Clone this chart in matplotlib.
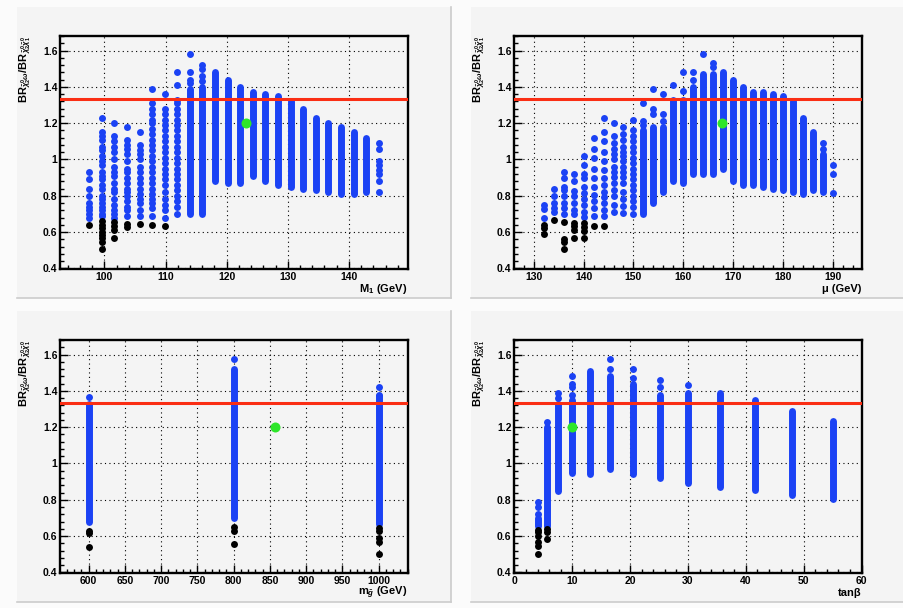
import matplotlib.pyplot as plt
from matplotlib.patches import Rectangle
from matplotlib.lines import Line2D
from matplotlib.ticker import MultipleLocator, FormatStrFormatter

# ---- data: BR ratio scan against M1, mu, m_gluino and tan(beta) ----
RATIO_LIMIT = 1.333
GREEN_Y = 1.2

m1_x = [97.5, 99.6, 101.6, 103.7, 105.8, 107.8, 109.9, 111.9, 114.0, 116.0, 118.1, 120.2,
        122.2, 124.3, 126.3, 128.4, 130.5, 132.5, 134.6, 136.6, 138.7, 140.8, 142.8, 144.9]
m1_dots = [
    [0.93, 0.89, 0.84, 0.80, 0.76, 0.74, 0.72, 0.70, 0.68],
    [1.23, 1.15, 1.13, 1.11, 1.07, 1.05, 1.02, 0.99, 0.97, 0.93, 0.91, 0.89, 0.86, 0.84,
     0.80, 0.78, 0.76, 0.74, 0.72, 0.70, 0.69],
    [1.20, 1.13, 1.10, 1.07, 1.04, 1.00, 0.96, 0.93, 0.91, 0.87, 0.84, 0.82, 0.78, 0.75,
     0.72, 0.70, 0.68],
    [1.18, 1.11, 1.08, 1.06, 1.03, 0.99, 0.95, 0.93, 0.90, 0.87, 0.84, 0.82, 0.80, 0.77,
     0.74, 0.72, 0.69],
    [1.15, 1.08, 1.05, 1.03, 1.00, 0.96, 0.93, 0.90, 0.87, 0.84, 0.81, 0.78, 0.76, 0.72, 0.69],
    [1.39, 1.31, 1.28, 1.25, 1.22, 1.20, 1.17, 1.14, 1.11, 1.08, 1.05, 1.02, 0.99, 0.96,
     0.93, 0.90, 0.87, 0.84, 0.81, 0.78, 0.76, 0.73, 0.69],
    [1.36, 1.28, 1.25, 1.22, 1.19, 1.16, 1.13, 1.10, 1.07, 1.04, 1.01, 0.98, 0.95, 0.92,
     0.89, 0.86, 0.82, 0.78, 0.75, 0.72, 0.68],
    [1.48, 1.41, 1.33, 1.31, 1.28, 1.25, 1.22, 1.19, 1.16, 1.13, 1.10, 1.07, 1.04, 1.01,
     0.98, 0.95, 0.92, 0.89, 0.86, 0.83, 0.80, 0.77, 0.74, 0.70],
    [1.58, 1.48, 1.44, 1.42],
    [1.52, 1.50, 1.46, 1.43],
    [], [], [], [], [], [], [], [], [], [], [], [], [],
    [1.09, 1.06, 0.99, 0.97, 0.94, 0.92, 0.88, 0.82],
]
m1_lo = [None] * 8 + [0.70, 0.70, 0.88, 0.87, 0.87, 0.91, 0.88, 0.86, 0.85, 0.84, 0.83,
                     0.82, 0.81, 0.81, 0.82, None]
m1_hi = [None] * 8 + [1.39, 1.40, 1.48, 1.44, 1.40, 1.37, 1.36, 1.35, 1.32, 1.28, 1.23,
                     1.20, 1.18, 1.15, 1.12, None]
m1_black = [[0.64], [0.66, 0.64, 0.62, 0.60, 0.585, 0.565, 0.545, 0.505],
            [0.655, 0.635, 0.61, 0.565], [0.645, 0.63], [0.645], [0.64], [0.635]] + [[]] * 17

mu_x = [132, 134, 136, 138, 140, 142, 144, 146, 148, 150, 152, 154, 156, 158, 160,
        162, 164, 166, 168, 170, 172, 174, 176, 178, 180, 182, 184, 186, 188, 190]
mu_dots = [
    [0.75, 0.725, 0.68],
    [0.84, 0.80, 0.76, 0.73, 0.71],
    [0.93, 0.90, 0.85, 0.83, 0.80, 0.76, 0.73, 0.70],
    [0.92, 0.88, 0.825, 0.80, 0.76, 0.72, 0.70],
    [1.02, 0.97, 0.92, 0.90, 0.85, 0.815, 0.78, 0.75, 0.71, 0.685],
    [1.12, 1.06, 1.01, 0.95, 0.90, 0.85, 0.805, 0.77, 0.73, 0.69],
    [1.23, 1.15, 1.10, 1.04, 0.99, 0.94, 0.90, 0.86, 0.82, 0.795, 0.76, 0.72, 0.69],
    [1.20, 1.13, 1.09, 1.06, 1.03, 1.00, 0.96, 0.93, 0.905, 0.87, 0.83, 0.80, 0.75, 0.71],
    [1.18, 1.14, 1.11, 1.07, 1.04, 1.02, 0.99, 0.96, 0.93, 0.905, 0.87, 0.82, 0.78, 0.745, 0.705],
    [1.22, 1.16, 1.13, 1.10, 1.07, 1.04, 1.01, 0.98, 0.95, 0.92, 0.89, 0.86, 0.83, 0.80,
     0.77, 0.74, 0.70],
    [1.31, 1.21, 1.19],
    [1.39, 1.28, 1.25],
    [1.36, 1.25, 1.21],
    [1.41],
    [1.48, 1.38],
    [1.48, 1.44],
    [1.58],
    [1.53, 1.51],
    [], [], [], [], [], [], [], [], [], [],
    [1.09, 1.06],
    [0.97, 0.92, 0.815],
]
mu_lo = [None] * 10 + [0.70, 0.76, 0.82, 0.88, 0.87, 0.92, 0.92, 0.92, 0.95, 0.88, 0.86,
                       0.86, 0.85, 0.84, 0.83, 0.82, 0.81, 0.83, 0.82, None]
mu_hi = [None] * 10 + [1.16, 1.18, 1.18, 1.33, 1.33, 1.40, 1.47, 1.47, 1.48, 1.44, 1.40,
                       1.37, 1.37, 1.36, 1.35, 1.32, 1.23, 1.15, 1.03, None]
mu_black = [[0.64, 0.625, 0.59], [0.665], [0.655, 0.56, 0.545, 0.505],
            [0.65, 0.635, 0.61, 0.565], [0.65, 0.63, 0.605, 0.565], [0.635], [0.635]] + [[]] * 23

mg_x = [600, 800, 1000]
mg_dots = [[1.365], [1.575], [1.42, 1.38]]
mg_lo = [0.675, 0.70, 0.665]
mg_hi = [1.33, 1.52, 1.37]
mg_black = [[0.63, 0.615, 0.54], [0.65, 0.63, 0.555], [0.645, 0.63, 0.59, 0.565, 0.50]]

tb_x = [4.1, 5.7, 7.6, 10.0, 13.0, 16.6, 20.5, 25.1, 30.0, 35.5, 41.6, 48.0, 55.0]
tb_dots = [[0.79, 0.76, 0.72], [1.23], [1.39, 1.36], [1.48, 1.44, 1.42, 1.38], [],
           [1.575, 1.52], [1.52, 1.47], [1.46, 1.42], [1.43], [], [], [], []]
tb_lo = [0.655, 0.655, 0.85, 0.95, 0.94, 0.97, 0.94, 0.92, 0.89, 0.87, 0.855, 0.825, 0.805]
tb_hi = [0.70, 1.20, 1.33, 1.35, 1.51, 1.48, 1.44, 1.38, 1.39, 1.39, 1.35, 1.29, 1.235]
tb_black = [[0.635, 0.62, 0.60, 0.565, 0.545, 0.50], [0.64, 0.625, 0.585]] + [[]] * 11

# benchmark point shown in green on every panel
green_x = [123.1, 167.7, 857.0, 10.0]

# ---- style ----
BLUE = '#1b42f4'
RED = '#fa2e14'
GREEN = '#2ee62a'
PAD = '#f4f4f4'
MS = 5.0

plt.rcParams['font.family'] = ['Liberation Sans', 'DejaVu Sans']
plt.rcParams['font.weight'] = 'bold'
plt.rcParams['mathtext.fontset'] = 'custom'
plt.rcParams['mathtext.rm'] = 'Liberation Sans:bold'
plt.rcParams['mathtext.bf'] = 'Liberation Sans:bold'
plt.rcParams['mathtext.it'] = 'Liberation Sans:italic:bold'

W, H = 904, 608
PW, PH = 434, 291
pads = [(17, 7), (471, 7), (17, 311), (471, 311)]

fig = plt.figure(figsize=(W / 100, H / 100), dpi=100, facecolor='#fbfbfb')

ylabel = r'BR$_{\tilde{\chi}^{0}_{2}\omega}$/BR$_{\tilde{\chi}^{0}_{2}\tilde{\chi}^{0}_{1}}$'


def make_pad(px, py):
    fig.add_artist(Rectangle((px / W, 1 - (py + PH) / H), PW / W, PH / H,
                             transform=fig.transFigure, fc=PAD, ec='none', zorder=0))
    x1, y1 = (px + PW) / W, 1 - (py + PH) / H
    fig.add_artist(Line2D([px / W, x1], [y1, y1], transform=fig.transFigure,
                          color='#cccccc', lw=1.2, zorder=0.5))
    fig.add_artist(Line2D([x1, x1], [y1, 1 - py / H], transform=fig.transFigure,
                          color='#cccccc', lw=1.2, zorder=0.5))
    rect = [(px + 0.1 * PW) / W, 1 - (py + 0.9 * PH) / H, 0.8 * PW / W, 0.8 * PH / H]
    return fig.add_axes(rect)


def draw_panel(ax, xs, dots, lo, hi, black, gx, xlim, xmajor, xminor, xlabel):
    ax.set_facecolor(PAD)
    ax.set_axisbelow(True)
    for x, ys in zip(xs, dots):
        if ys:
            ax.plot([x] * len(ys), ys, 'o', ms=MS, color=BLUE, mec='none', zorder=3)
    runs = [(x, a, b) for x, a, b in zip(xs, lo, hi) if a is not None]
    lc = ax.vlines([r[0] for r in runs], [r[1] for r in runs], [r[2] for r in runs],
                   colors=BLUE, lw=MS, zorder=3)
    lc.set_capstyle('round')
    for x, ys in zip(xs, black):
        if ys:
            ax.plot([x] * len(ys), ys, 'o', ms=MS, color='black', mec='none', zorder=3)
    ax.axhline(RATIO_LIMIT, color=RED, lw=2.2, zorder=4)
    ax.plot([gx], [GREEN_Y], 'o', ms=7.2, color=GREEN, mec='none', zorder=5)

    ax.set_xlim(*xlim)
    ax.set_ylim(0.397, 1.68)
    ax.xaxis.set_major_locator(MultipleLocator(xmajor))
    ax.xaxis.set_minor_locator(MultipleLocator(xminor))
    ax.yaxis.set_major_locator(MultipleLocator(0.2))
    ax.yaxis.set_minor_locator(MultipleLocator(0.04))
    ax.yaxis.set_major_formatter(FormatStrFormatter('%g'))
    ax.xaxis.set_major_formatter(FormatStrFormatter('%g'))
    ax.grid(True, which='major', color='black', linestyle=(0, (1, 3)), lw=0.8)
    ax.tick_params(which='both', direction='in', top=False, right=False, width=1.0,
                   labelsize=7.5, pad=2)
    ax.tick_params(which='major', length=6)
    ax.tick_params(which='minor', length=3)
    for lab in ax.get_xticklabels() + ax.get_yticklabels():
        lab.set_fontweight('bold')
    for sp in ax.spines.values():
        sp.set_linewidth(1.7)
    ax.text(1.0, -0.085, xlabel, transform=ax.transAxes, ha='right', va='center',
            fontsize=8, fontweight='bold')
    ax.text(-0.103, 1.0, ylabel, transform=ax.transAxes, ha='center', va='top',
            rotation=90, fontsize=8, fontweight='bold')


axes = [make_pad(px, py) for px, py in pads]
draw_panel(axes[0], m1_x, m1_dots, m1_lo, m1_hi, m1_black, green_x[0],
           (92.8, 149.6), 10, 2, r'M$_{1}$ (GeV)')
draw_panel(axes[1], mu_x, mu_dots, mu_lo, mu_hi, mu_black, green_x[1],
           (126.1, 195.8), 10, 2, 'μ (GeV)')
draw_panel(axes[2], mg_x, mg_dots, mg_lo, mg_hi, mg_black, green_x[2],
           (561, 1040), 50, 10, r'm$_{\tilde{g}}$ (GeV)')
draw_panel(axes[3], tb_x, tb_dots, tb_lo, tb_hi, tb_black, green_x[3],
           (0, 60), 10, 2, 'tanβ')

fig.savefig('out.png', dpi=100, facecolor=fig.get_facecolor())
